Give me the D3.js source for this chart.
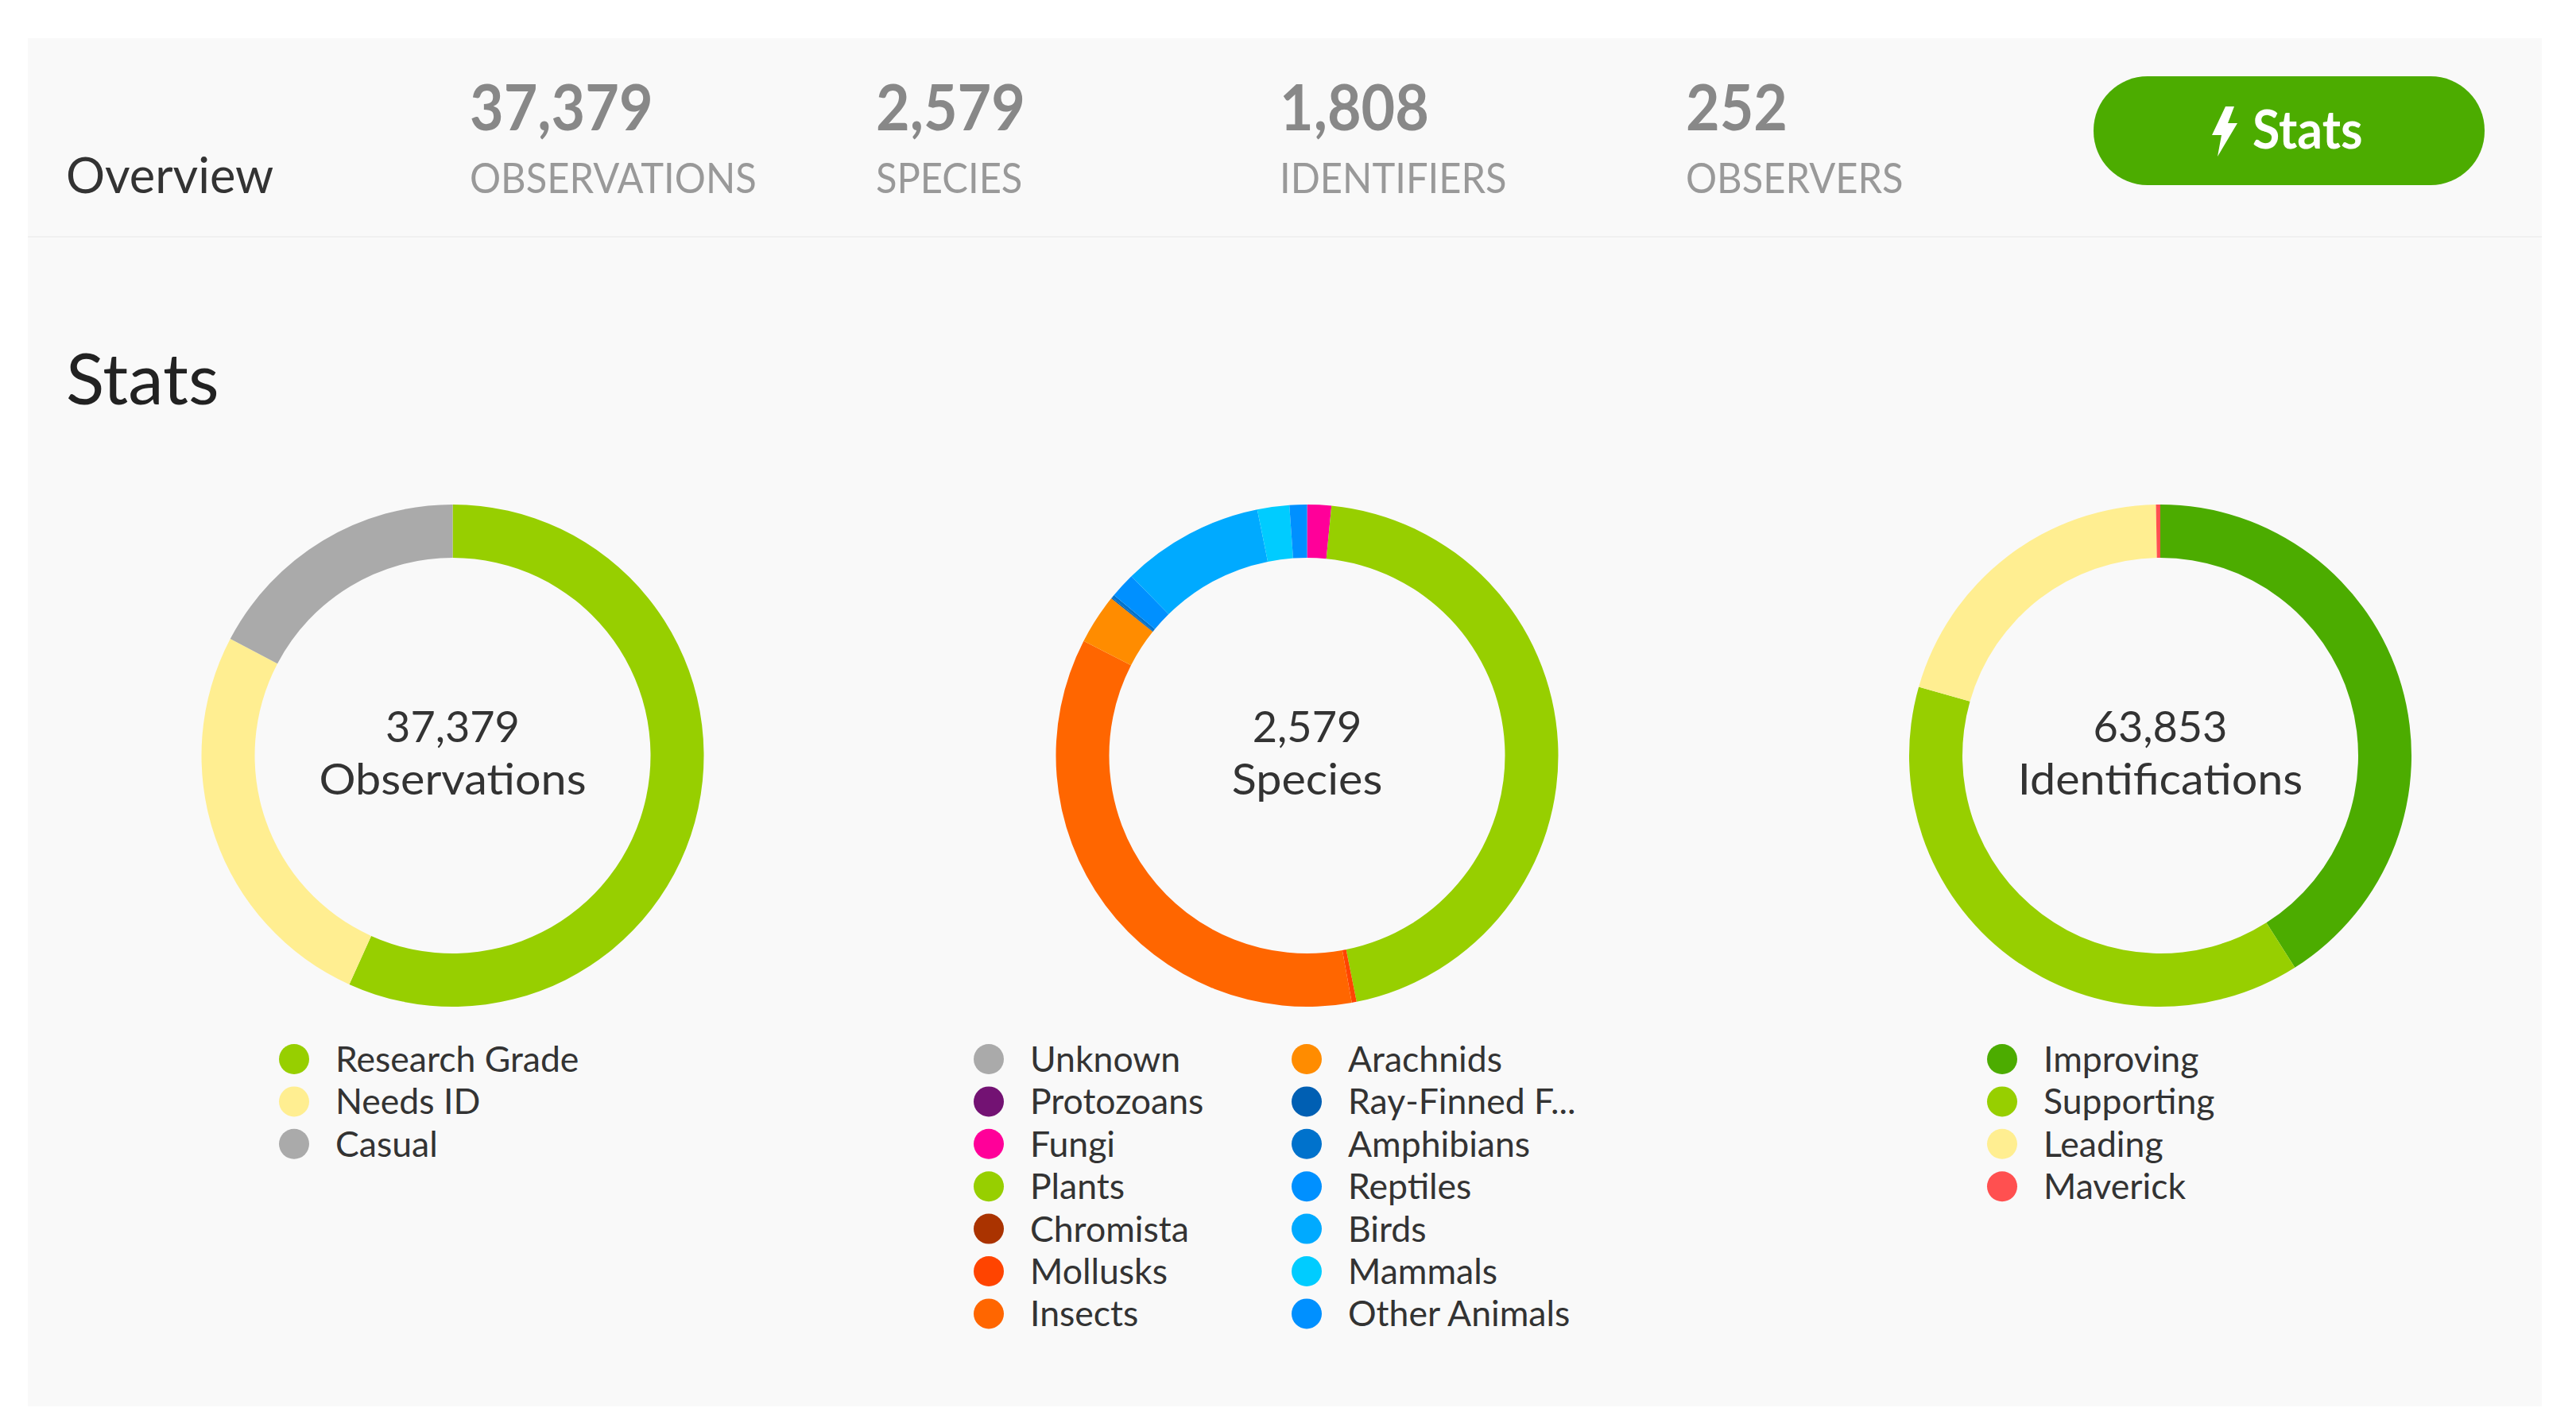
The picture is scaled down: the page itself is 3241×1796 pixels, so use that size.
<!DOCTYPE html>
<html>
<head>
<meta charset="utf-8">
<script src="https://cdn.jsdelivr.net/npm/d3@7"></script>
<style>
  html, body { margin: 0; background: #fff; }
  svg { display: block; }
  text { font-family: Lato, "Open Sans", sans-serif; }
</style>
</head>
<body>
<div id="chart"></div>
<script>
// header numbers
const overviewValues = ["37,379", "2,579", "1,808", "252"];
const overviewLabels = ["OBSERVATIONS", "SPECIES", "IDENTIFIERS", "OBSERVERS"];

// quality grade donut
const qualityNames = ["Research Grade", "Needs ID", "Casual"];
const qualityValues = [21213, 9698, 6468];
const qualityColors = ["#97cf00", "#ffee91", "#aaaaaa"];

// species donut, Unknown/Protozoans/Chromista are too thin to see
const taxaNames = ["Unknown", "Protozoans", "Fungi", "Plants", "Chromista", "Mollusks", "Insects",
  "Arachnids", "Ray-Finned F...", "Amphibians", "Reptiles", "Birds", "Mammals", "Other Animals"];
const taxaValues = [0, 0, 40, 1168, 0, 8, 913, 83, 2, 5, 42, 236, 53, 29];
const taxaColors = ["#aaaaaa", "#731273", "#ff0099", "#97cf00", "#aa3300", "#ff4400", "#ff6600",
  "#ff8c00", "#005fb3", "#0072cc", "#0090ff", "#00aaff", "#00ccff", "#0090ff"];

// identifications donut
const idNames = ["Improving", "Supporting", "Leading", "Maverick"];
const idValues = [26180, 24531, 12966, 176];
const idColors = ["#4cac00", "#97cf00", "#ffee91", "#ff5050"];

const donuts = [
  { names: qualityNames, values: qualityValues, colors: qualityColors, label: "Observations", cx: 569.5, legendX: [370], rows: 3 },
  { names: taxaNames, values: taxaValues, colors: taxaColors, label: "Species", cx: 1644.5, legendX: [1244, 1644], rows: 7 },
  { names: idNames, values: idValues, colors: idColors, label: "Identifications", cx: 2718, legendX: [2519], rows: 4 }
];

const svg = d3.select("#chart").append("svg")
  .attr("width", 3241)
  .attr("height", 1796);

// stretch squeezes or widens the text sideways, the reference font has other widths than Lato
function addText(x, y, str, size, color, stretch, anchor, weight) {
  return svg.append("text")
    .attr("transform", `translate(${x},${y}) scale(${stretch},1)`)
    .attr("text-anchor", anchor || "start")
    .attr("font-size", size)
    .attr("font-weight", weight || 400)
    .attr("fill", color)
    .text(str);
}

// background panel and header line
svg.append("rect").attr("x", 35).attr("y", 48).attr("width", 3163).attr("height", 1722).attr("fill", "#f9f9f9");
svg.append("rect").attr("x", 35).attr("y", 297).attr("width", 3163).attr("height", 2).attr("fill", "#f0f0f0");

addText(83, 243, "Overview", 62, "#333", 0.99);
addText(83, 509, "Stats", 90, "#222", 0.99);

const headerX = [591, 1102, 1610, 2121];
overviewValues.forEach((v, i) => {
  addText(headerX[i], 164, v, 80, "#888", 0.92, "start", 700);
  addText(headerX[i], 243, overviewLabels[i], 52, "#999", 0.94);
});

// stats button
svg.append("rect").attr("x", 2634).attr("y", 96).attr("width", 492).attr("height", 137).attr("rx", 68).attr("fill", "#4cac00");
const bolt = d3.path();
bolt.moveTo(2800, 134);
bolt.lineTo(2783, 170);
bolt.lineTo(2795, 170);
bolt.lineTo(2790, 197);
bolt.lineTo(2815, 155);
bolt.lineTo(2803, 155);
bolt.lineTo(2811, 134);
bolt.closePath();
svg.append("path").attr("d", bolt.toString()).attr("fill", "#fff");
addText(2834, 187, "Stats", 66, "#fff", 0.95, "start", 700);

// donuts
const pie = d3.pie().sort(null);
const arc = d3.arc().innerRadius(249).outerRadius(316);
const cy = 951;

donuts.forEach(d => {
  const g = svg.append("g").attr("transform", `translate(${d.cx},${cy})`);
  g.selectAll("path")
    .data(pie(d.values))
    .enter().append("path")
    .attr("d", arc)
    .attr("fill", (p, i) => d.colors[i]);

  addText(d.cx, 934, d3.format(",")(d3.sum(d.values)), 54, "#333", 1.0, "middle");
  addText(d.cx, 1000, d.label, 54, "#333", 1.065, "middle");

  d.names.forEach((name, i) => {
    const col = Math.floor(i / d.rows);
    const row = i % d.rows;
    const x = d.legendX[col];
    const y = 1333 + row * 53.4;
    svg.append("circle").attr("cx", x).attr("cy", y).attr("r", 19).attr("fill", d.colors[i]);
    addText(x + 52, y + 16, name, 45, "#333", 0.99);
  });
});
</script>
</body>
</html>
